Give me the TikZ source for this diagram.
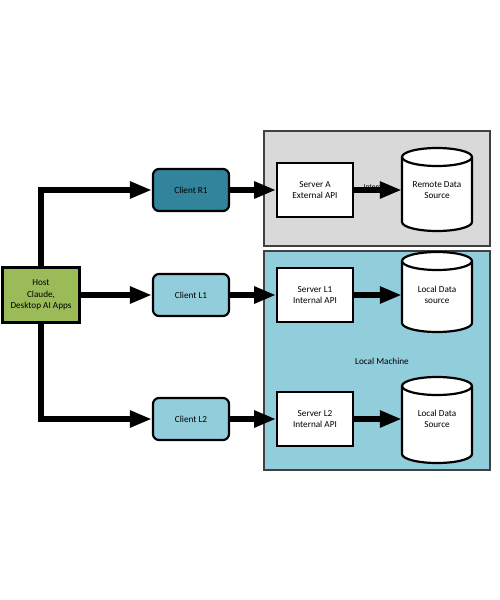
\documentclass[tikz,border=0pt]{standalone}
\usepackage{fontspec}
\setmainfont{Carlito}
\usetikzlibrary{arrows.meta}
\definecolor{hostgreen}{HTML}{9BBB59}
\definecolor{tealdark}{HTML}{31849B}
\definecolor{lightblue}{HTML}{92CDDC}
\definecolor{panelgray}{HTML}{D9D9D9}
\definecolor{panelborder}{HTML}{404040}
\begin{document}
\begin{tikzpicture}[x=1pt,y=-1pt,
  lbl/.style={font=\fontsize{9.2}{11.5}\selectfont, align=center},
  box/.style={lbl, draw=black, line width=2.2pt, inner sep=0pt},
  clientbox/.style={box, rounded corners=6pt, minimum width=76pt, minimum height=42pt},
  serverbox/.style={box, fill=white, line width=1.8pt, minimum width=76pt, minimum height=54pt},
  cyltext/.style={lbl, minimum width=70pt, minimum height=20pt, inner sep=0pt},
  cyl/.style={draw=black, line width=2.2pt, fill=white},
  panel/.style={draw=panelborder, line width=1.2pt},
  flow/.style={line width=5.5pt, -{Triangle[length=22pt,width=16pt]}}
]
\useasboundingbox (0,0) rectangle (500,600);
\fill[white] (0,0) rectangle (500,600);

% panels
\draw[panel, fill=panelgray] (264,131) rectangle (490,246);
\draw[panel, fill=lightblue] (264,251) rectangle (490,470);
\node[lbl] (lm) at (382,361) {Local Machine};

% host and clients
\node[box, fill=hostgreen, minimum width=77pt, minimum height=55pt] (host) at (41,295) {Host\\Claude,\\Desktop AI Apps};
\node[clientbox, fill=tealdark] (cr1) at (191,190) {Client R1};
\node[clientbox, fill=lightblue] (cl1) at (191,295) {Client L1};
\node[clientbox, fill=lightblue] (cl2) at (191,419) {Client L2};

% servers
\node[serverbox] (sa) at (315,190) {Server A\\External API};
\node[serverbox] (sl1) at (315,295) {Server L1\\Internal API};
\node[serverbox] (sl2) at (315,419) {Server L2\\Internal API};

% cylinders
\foreach \ty/\by in {148/231, 252/332, 377/463}{
  \pgfmathsetmacro{\tc}{\ty+9}
  \pgfmathsetmacro{\bc}{\by-9}
  \draw[cyl] (402,\tc) -- (402,\bc) arc[start angle=180,end angle=360,x radius=35pt,y radius=9pt]
     -- (472,\tc) arc[start angle=0,end angle=180,x radius=35pt,y radius=9pt] -- cycle;
  \draw[line width=2.2pt] (402,\tc) arc[start angle=180,end angle=360,x radius=35pt,y radius=9pt];
}
\node[cyltext] (rds) at (437,190) {Remote Data\\Source};
\node[cyltext] (ld1) at (437,295) {Local Data\\source};
\node[cyltext] (ld2) at (437,419) {Local Data\\Source};

% internet label (mostly hidden by arrow)
\node[lbl, font=\fontsize{7.5}{9}\selectfont] (inet) at (376,187) {Internet};

% connectors
\draw[flow] (host.north) |- (cr1.west);
\draw[flow] (host.east) -- (cl1.west);
\draw[flow] (host.south) |- (cl2.west);
\draw[flow] (cr1.east) -- (sa.west);
\draw[flow] (cl1.east) -- (sl1.west);
\draw[flow] (cl2.east) -- (sl2.west);
\draw[flow] (sa.east) -- (rds.west);
\draw[flow] (sl1.east) -- (ld1.west);
\draw[flow] (sl2.east) -- (ld2.west);
\end{tikzpicture}
\end{document}
